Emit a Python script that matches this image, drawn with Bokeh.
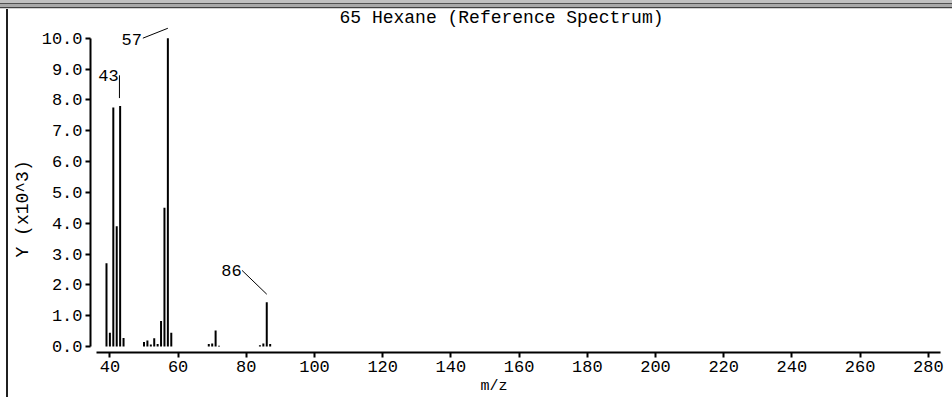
from bokeh.plotting import figure
from bokeh.models import Label, FixedTicker, Range1d
from bokeh.core.properties import value
from bokeh.embed import file_html
from bokeh.resources import INLINE

# ---- data (m/z, intensity in units of 10^3) ----
mz = [39, 40, 41, 42, 43, 44, 50, 51, 52, 53, 54, 55, 56, 57, 58,
      69, 70, 71, 72, 84, 85, 86, 87]
intensity = [2.7, 0.45, 7.75, 3.9, 7.8, 0.28, 0.15, 0.2, 0.07, 0.27, 0.08, 0.83, 4.5, 10.0, 0.45,
             0.08, 0.1, 0.52, 0.03, 0.04, 0.1, 1.44, 0.08]
labeled_peaks = [57, 43, 86]
x_ticks = [40, 60, 80, 100, 120, 140, 160, 180, 200, 220, 240, 260, 280]
y_ticks = [0, 1, 2, 3, 4, 5, 6, 7, 8, 9, 10]
title_text = "65 Hexane (Reference Spectrum)"
x_label = "m/z"
y_label = "Y (x10^3)"

FONT = "Liberation Mono"
NB = "\u00a0"
W, H = 952, 397
FL, FR, FT, FB = 90, 942, 0, 355       # frame edges in pixels
XPX = 3.41                               # px per m/z unit
YPX = 31.1                               # px per 10^3 unit
x0 = 40 - (109.4 - FL) / XPX
x1 = x0 + (FR - FL) / XPX
y0 = -(FB - 349) / YPX
y1 = y0 + (FB - FT) / YPX

# page decoration (grey bands at the top, thin line at the left edge) as CSS backdrop
top_bands = ("linear-gradient(to bottom, #c0c0c0 0px, #c0c0c0 3px, #505050 3px, #505050 4px, "
             "#a8a8a8 4px, #a8a8a8 7px, #404040 7px, #404040 8px, #d0d0d0 8px, #d0d0d0 9px, "
             "transparent 9px)")
left_line = "linear-gradient(to right, transparent 6px, #202020 6px, #202020 8px, transparent 8px)"

p = figure(width=W, height=H, output_backend="svg", toolbar_location=None,
           x_range=Range1d(x0, x1), y_range=Range1d(y0, y1),
           min_border_left=FL, min_border_right=W - FR,
           min_border_top=FT, min_border_bottom=H - FB,
           styles={"background-color": "white",
                   "background-image": top_bands + ", " + left_line})
p.grid.visible = False
p.outline_line_color = None
p.background_fill_alpha = 0
p.border_fill_alpha = 0

# axes
xa = p.xaxis[0]
xa.ticker = FixedTicker(ticks=x_ticks)
xa.bounds = (x0 + 6 / XPX, x1 - 2 / XPX)
xa.major_tick_out = 5
xa.major_tick_in = 0
xa.minor_tick_out = 0
xa.minor_tick_in = 0
xa.axis_line_width = 2
xa.major_tick_line_width = 2
xa.major_label_text_font = FONT
xa.major_label_text_font_size = "17px"
xa.major_label_text_color = "black"
xa.major_label_standoff = 3
xa.axis_label = x_label + NB * 5
xa.axis_label_text_font = FONT
xa.axis_label_text_font_size = "15px"
xa.axis_label_text_font_style = "normal"
xa.axis_label_text_color = "black"
xa.axis_label_standoff = 3

ya = p.yaxis[0]
ya.ticker = FixedTicker(ticks=y_ticks)
ya.bounds = (0, 10)
ya.major_tick_out = 5
ya.major_tick_in = 0
ya.minor_tick_out = 0
ya.minor_tick_in = 0
ya.axis_line_width = 2
ya.major_tick_line_width = 2
ya.major_label_text_font = FONT
ya.major_label_text_font_size = "17px"
ya.major_label_text_color = "black"
ya.major_label_standoff = 3
ya.major_label_overrides = {t: f"{t:.1f}" for t in y_ticks}
ya.axis_label = y_label + NB * 6
ya.axis_label_text_font = FONT
ya.axis_label_text_font_size = "18px"
ya.axis_label_text_font_style = "normal"
ya.axis_label_text_color = "black"
ya.axis_label_standoff = 6

# peaks
p.segment(x0=mz, y0=[0] * len(mz), x1=mz, y1=intensity, line_color="black", line_width=2)

# peak labels with leader lines
h = dict(zip(mz, intensity))
lx0, ly0, lx1, ly1, tx, ty, tt = [], [], [], [], [], [], []
m = 57
lx0.append(m - 25 / XPX); ly0.append(h[m]); lx1.append(m); ly1.append(h[m] + 10 / YPX)
tx.append(m - 26 / XPX); ty.append(h[m] - 1 / YPX); tt.append(str(m))
m = 43
lx0.append(m - 0.2); ly0.append(h[m] + 8 / YPX); lx1.append(m - 0.2); ly1.append(h[m] + 31 / YPX)
tx.append(m - 1.5 / XPX); ty.append(h[m] + 31 / YPX); tt.append(str(m))
m = 86
lx0.append(m - 24.7 / XPX); ly0.append(h[m] + 32 / YPX); lx1.append(m); ly1.append(h[m] + 8 / YPX)
tx.append(m - 25 / XPX); ty.append(h[m] + 32 / YPX); tt.append(str(m))

p.segment(x0=lx0, y0=ly0, x1=lx1, y1=ly1, line_color="black", line_width=1)
p.text(x=tx, y=ty, text=tt, text_align="right", text_baseline="middle",
       text_font=value(FONT), text_font_size="17px", text_color="black")

# title (screen units are relative to the frame's bottom-left corner, y up)
p.add_layout(Label(x=501 - FL, y=FB - 20, x_units="screen", y_units="screen", text=title_text,
                   text_font=FONT, text_font_size="18px", text_align="center",
                   text_baseline="middle", text_color="black"))

out = file_html(p, INLINE)
open("out.html", "w").write(out)
